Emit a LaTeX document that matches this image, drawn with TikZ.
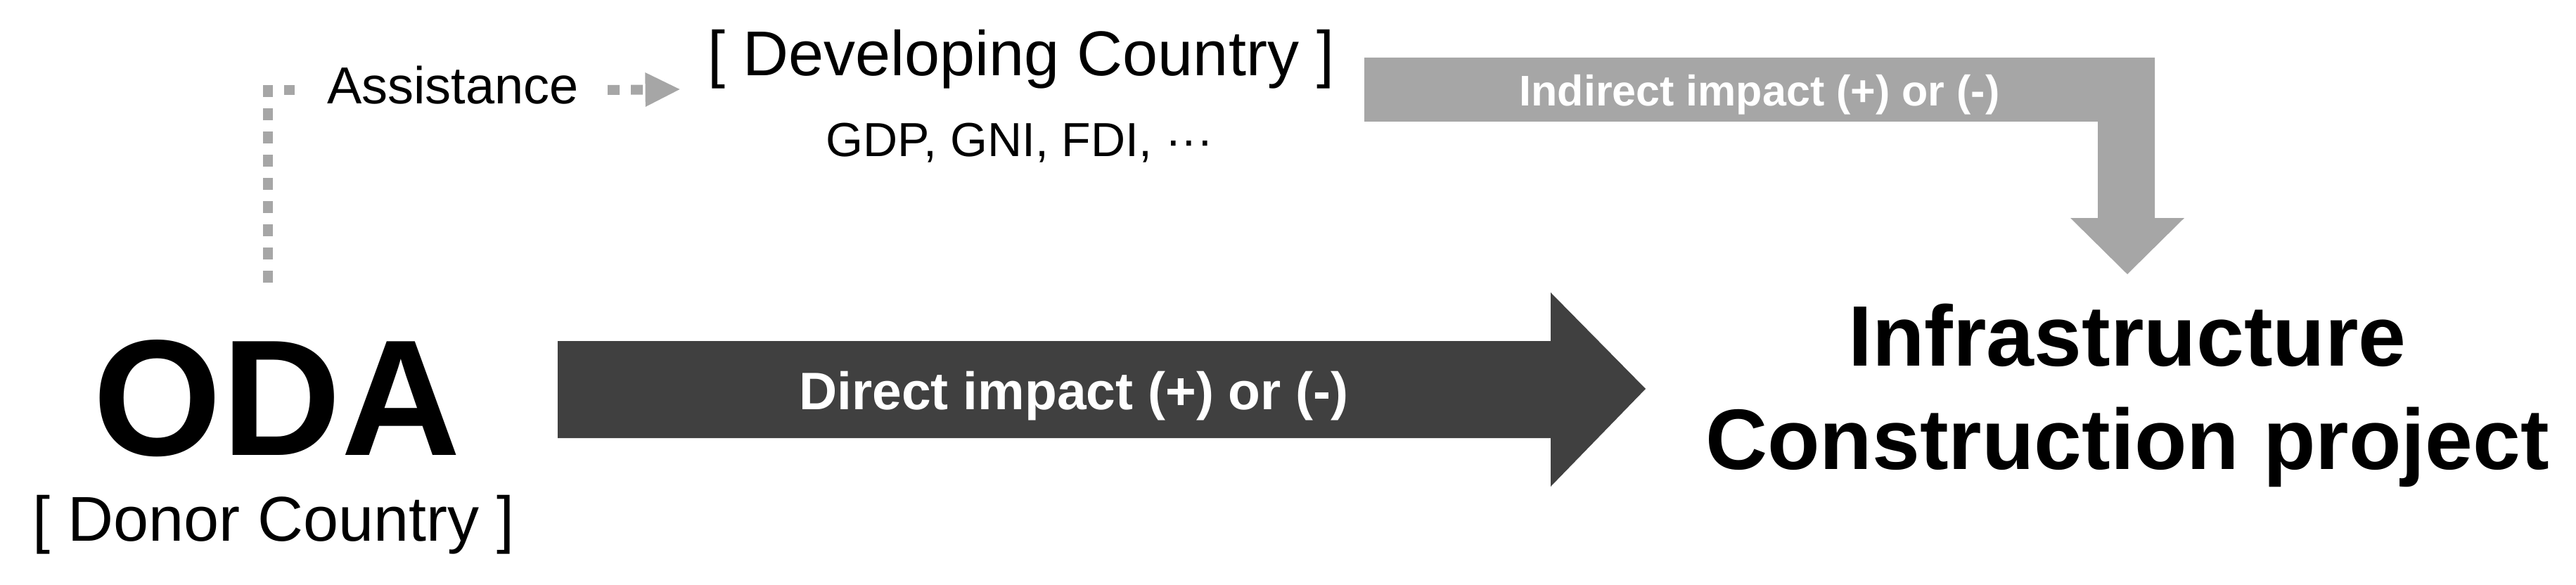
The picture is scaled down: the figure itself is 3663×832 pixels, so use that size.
\documentclass[tikz,border=0pt]{standalone}
\usepackage{fontspec}
\setmainfont{Liberation Sans}
\usetikzlibrary{arrows.meta}
\definecolor{darkarrow}{HTML}{404040}
\definecolor{lightarrow}{HTML}{A6A6A6}

\begin{document}
\begin{tikzpicture}[x=1pt, y=-1pt,
	lbl/.style={inner sep=0pt, anchor=base},
	dotline/.style={lightarrow, line width=14pt, dash pattern=on 17pt off 16pt}]
	\useasboundingbox (0,0) rectangle (3663,832);

	% block arrows
	\fill[darkarrow] (793,485) -- (2205,485) -- (2205,416) -- (2340,553) -- (2205,692) -- (2205,623) -- (793,623) -- cycle;
	\fill[lightarrow] (1940,82) -- (3064,82) -- (3064,310) -- (3106,310) -- (3025,390) -- (2944,310) -- (2983,310) -- (2983,173) -- (1940,173) -- cycle;

	% donor side
	\node[lbl, font=\fontsize{235}{235}\selectfont\bfseries] (oda) at (394,647) {ODA};
	\node[lbl, font=\fontsize{90}{90}\selectfont] (donor) at (389,769) {[ Donor Country ]};

	% developing country
	\node[lbl, font=\fontsize{74}{74}\selectfont] (assist) at (644,148) {Assistance};
	\node[lbl, font=\fontsize{90}{90}\selectfont] (devel) at (1452,108) {[ Developing Country ]};
	\node[lbl, font=\fontsize{68}{68}\selectfont] (gdp) at (1450,222) {GDP, GNI, FDI, ···};

	% target (base = last line)
	\node[lbl, align=center, font=\fontsize{122}{147}\selectfont\bfseries] (infra) at (3025,667) {Infrastructure\\Construction project};

	% labels on the arrows
	\node[lbl, white, font=\fontsize{75}{75}\selectfont\bfseries] (direct) at (1527,582) {Direct impact (+) or (-)};
	\node[lbl, white, font=\fontsize{61}{61}\selectfont\bfseries] (indirect) at (2502,150) {Indirect impact (+) or (-)};

	% assistance path
	\coordinate (dstart) at (381,402);
	\draw[dotline] (dstart) |- ([xshift=-46pt, yshift=20pt]assist.base west);
	\draw[dotline, -{Triangle[length=49pt, width=49pt, line width=0pt]}] ([xshift=41pt, yshift=20pt]assist.base east) -- ([xshift=-40pt, yshift=-19pt]devel.base west);
\end{tikzpicture}
\end{document}
